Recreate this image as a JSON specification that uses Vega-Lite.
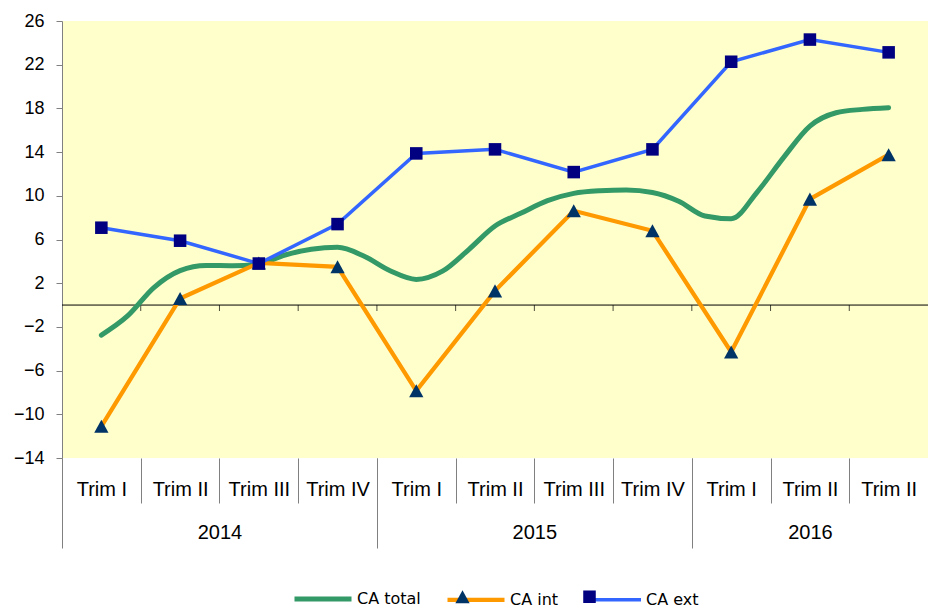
{
  "$schema": "https://vega.github.io/schema/vega-lite/v6.json",
  "width": 866,
  "height": 437,
  "autosize": "none",
  "padding": {"left": 62, "top": 21, "right": 0, "bottom": 150},
  "background": "white",
  "view": {"fill": "#FFFFCC", "stroke": null},
  "config": {"font": "Liberation Sans"},
  "datasets": {
    "total": [
      {"t": 0, "v": -2.75, "series": "CA total"},
      {"t": 0.333, "v": -1.0, "series": "CA total"},
      {"t": 0.667, "v": 1.6, "series": "CA total"},
      {"t": 1, "v": 3.15, "series": "CA total"},
      {"t": 1.333, "v": 3.63, "series": "CA total"},
      {"t": 1.667, "v": 3.6, "series": "CA total"},
      {"t": 2, "v": 3.75, "series": "CA total"},
      {"t": 2.333, "v": 4.58, "series": "CA total"},
      {"t": 2.667, "v": 5.1, "series": "CA total"},
      {"t": 3, "v": 5.28, "series": "CA total"},
      {"t": 3.333, "v": 4.49, "series": "CA total"},
      {"t": 3.667, "v": 3.14, "series": "CA total"},
      {"t": 4, "v": 2.35, "series": "CA total"},
      {"t": 4.333, "v": 3.1, "series": "CA total"},
      {"t": 4.667, "v": 5.08, "series": "CA total"},
      {"t": 5, "v": 7.23, "series": "CA total"},
      {"t": 5.333, "v": 8.42, "series": "CA total"},
      {"t": 5.667, "v": 9.55, "series": "CA total"},
      {"t": 6, "v": 10.22, "series": "CA total"},
      {"t": 6.333, "v": 10.46, "series": "CA total"},
      {"t": 6.667, "v": 10.53, "series": "CA total"},
      {"t": 7, "v": 10.3, "series": "CA total"},
      {"t": 7.333, "v": 9.5, "series": "CA total"},
      {"t": 7.667, "v": 8.15, "series": "CA total"},
      {"t": 8, "v": 7.9, "series": "CA total"},
      {"t": 8.333, "v": 10.37, "series": "CA total"},
      {"t": 8.667, "v": 13.52, "series": "CA total"},
      {"t": 9, "v": 16.38, "series": "CA total"},
      {"t": 9.333, "v": 17.6, "series": "CA total"},
      {"t": 9.667, "v": 17.91, "series": "CA total"},
      {"t": 10, "v": 18.06, "series": "CA total"}
    ],
    "quarters": [
      {"t": 0, "v": -11.1, "series": "CA int"},
      {"t": 1, "v": 0.6, "series": "CA int"},
      {"t": 2, "v": 3.85, "series": "CA int"},
      {"t": 3, "v": 3.5, "series": "CA int"},
      {"t": 4, "v": -7.85, "series": "CA int"},
      {"t": 5, "v": 1.3, "series": "CA int"},
      {"t": 6, "v": 8.63, "series": "CA int"},
      {"t": 7, "v": 6.8, "series": "CA int"},
      {"t": 8, "v": -4.3, "series": "CA int"},
      {"t": 9, "v": 9.7, "series": "CA int"},
      {"t": 10, "v": 13.76, "series": "CA int"},
      {"t": 0, "v": 7.08, "series": "CA ext"},
      {"t": 1, "v": 5.89, "series": "CA ext"},
      {"t": 2, "v": 3.8, "series": "CA ext"},
      {"t": 3, "v": 7.41, "series": "CA ext"},
      {"t": 4, "v": 13.88, "series": "CA ext"},
      {"t": 5, "v": 14.25, "series": "CA ext"},
      {"t": 6, "v": 12.17, "series": "CA ext"},
      {"t": 7, "v": 14.25, "series": "CA ext"},
      {"t": 8, "v": 22.27, "series": "CA ext"},
      {"t": 9, "v": 24.3, "series": "CA ext"},
      {"t": 10, "v": 23.13, "series": "CA ext"}
    ],
    "bounds": [
      {"t": 0.5}, {"t": 1.5}, {"t": 2.5}, {"t": 3.5}, {"t": 4.5},
      {"t": 5.5}, {"t": 6.5}, {"t": 7.5}, {"t": 8.5}, {"t": 9.5}
    ]
  },
  "resolve": {"axis": {"x": "independent"}},
  "layer": [
    {
      "data": {"values": [{}]},
      "mark": {"type": "rule", "color": "#000000", "strokeWidth": 1},
      "encoding": {
        "y": {"datum": 0, "type": "quantitative", "scale": {"domain": [-14, 26], "nice": false, "zero": false},
          "axis": {"values": [-14, -10, -6, -2, 2, 6, 10, 14, 18, 22, 26], "grid": false, "domainColor": "#808080", "tickColor": "#808080", "tickSize": 6, "labelPadding": 12, "labelFont": "Liberation Sans", "labelFontSize": 18, "labelColor": "#000000", "title": null, "labelFlush": false, "labelBound": false, "labelOverlap": false}}
      }
    },
    {
      "data": {"name": "bounds"},
      "mark": {"type": "tick", "orient": "vertical", "size": 6, "thickness": 1, "yOffset": 3, "color": "#000000"},
      "encoding": {
        "x": {"field": "t", "type": "quantitative", "scale": {"domain": [-0.5, 10.5], "nice": false, "zero": false},
          "axis": {"orient": "bottom", "values": [1.5, 5.5, 9], "ticks": false, "tickSize": 0, "domain": false, "grid": false, "labelPadding": 64, "labelFont": "Liberation Sans", "labelFontSize": 20, "labelColor": "#000000", "labelExpr": "datum.value < 3.5 ? '2014' : (datum.value < 7.5 ? '2015' : '2016')", "labelFlush": false, "labelOverlap": false, "labelBound": false, "title": null}},
        "y": {"datum": 0, "type": "quantitative", "scale": {"domain": [-14, 26], "nice": false, "zero": false}, "title": null}
      }
    },
    {
      "data": {"name": "total"},
      "mark": {"type": "line", "interpolate": "monotone", "strokeCap": "round"},
      "encoding": {
        "x": {"field": "t", "type": "quantitative", "scale": {"domain": [-0.5, 10.5], "nice": false, "zero": false},
          "axis": {"orient": "bottom", "values": [-0.5, 0.5, 1.5, 2.5, 3.5, 4.5, 5.5, 6.5, 7.5, 8.5, 9.5], "tickSize": 45, "tickColor": "#808080", "labels": false, "domain": false, "grid": false, "title": null}},
        "y": {"field": "v", "type": "quantitative", "scale": {"domain": [-14, 26], "nice": false, "zero": false}, "title": null},
        "stroke": {"field": "series", "type": "nominal",
          "scale": {"domain": ["CA total", "CA int", "CA ext"], "range": ["#339966", "#FF9900", "#3366FF"]},
          "legend": {"orient": "none", "legendX": 230, "legendY": 547, "direction": "horizontal", "title": null, "symbolType": "stroke", "symbolSize": 3249, "labelFont": "DejaVu Sans", "labelFontSize": 16, "labelColor": "#000000", "labelOffset": 3, "columnPadding": 18, "padding": 0, "symbolOffset": 0}},
        "strokeWidth": {"field": "series", "type": "nominal",
          "scale": {"domain": ["CA total", "CA int", "CA ext"], "range": [5, 3.5, 3.5]},
          "legend": {"orient": "none", "legendX": 230, "legendY": 547, "direction": "horizontal", "title": null, "symbolType": "stroke", "symbolSize": 3249, "labelFont": "DejaVu Sans", "labelFontSize": 16, "labelColor": "#000000", "labelOffset": 3, "columnPadding": 18, "padding": 0, "symbolOffset": 0}}
      }
    },
    {
      "data": {"name": "quarters"},
      "mark": {"type": "line", "interpolate": "linear"},
      "encoding": {
        "x": {"field": "t", "type": "quantitative", "scale": {"domain": [-0.5, 10.5], "nice": false, "zero": false},
          "axis": {"orient": "bottom", "values": [-0.5, 3.5, 7.5], "tickSize": 90, "tickColor": "#808080", "labels": false, "domain": false, "grid": false, "title": null}},
        "y": {"field": "v", "type": "quantitative", "scale": {"domain": [-14, 26], "nice": false, "zero": false}, "title": null},
        "stroke": {"field": "series", "type": "nominal",
          "scale": {"domain": ["CA total", "CA int", "CA ext"], "range": ["#339966", "#FF9900", "#3366FF"]}},
        "strokeWidth": {"field": "series", "type": "nominal",
          "scale": {"domain": ["CA total", "CA int", "CA ext"], "range": [5, 3.5, 3.5]}}
      }
    },
    {
      "data": {"name": "quarters"},
      "mark": {"type": "point", "filled": true, "size": 3249, "opacity": 1, "strokeWidth": 0},
      "encoding": {
        "x": {"field": "t", "type": "quantitative", "scale": {"domain": [-0.5, 10.5], "nice": false, "zero": false},
          "axis": {"orient": "bottom", "values": [0, 1, 2, 3, 4, 5, 6, 7, 8, 9, 10], "ticks": false, "tickSize": 0, "domain": false, "grid": false, "labelPadding": 21, "labelFont": "Liberation Sans", "labelFontSize": 20, "labelColor": "#000000", "labelExpr": "['Trim I','Trim II','Trim III','Trim IV','Trim I','Trim II','Trim III','Trim IV','Trim I','Trim II','Trim II'][datum.value]", "labelFlush": false, "labelOverlap": false, "labelBound": false, "title": null}},
        "y": {"field": "v", "type": "quantitative", "scale": {"domain": [-14, 26], "nice": false, "zero": false}, "title": null},
        "shape": {"field": "series", "type": "nominal",
          "scale": {"domain": ["CA int", "CA ext", "CA total"], "range": ["M-0.25,0.23L0,-0.23L0.25,0.23Z", "M-0.22,-0.22H0.22V0.22H-0.22Z", "M0,0"]},
          "legend": {"orient": "none", "legendX": 230, "legendY": 547, "direction": "horizontal", "title": null, "values": ["CA total", "CA int", "CA ext"], "symbolSize": 3249, "symbolStrokeWidth": 0, "labelFont": "DejaVu Sans", "labelFontSize": 16, "labelOpacity": 0, "labelOffset": 3, "columnPadding": 18, "padding": 0, "symbolOffset": 0}},
        "fill": {"field": "series", "type": "nominal",
          "scale": {"domain": ["CA int", "CA ext", "CA total"], "range": ["#003366", "#000080", "transparent"]},
          "legend": {"orient": "none", "legendX": 230, "legendY": 547, "direction": "horizontal", "title": null, "values": ["CA total", "CA int", "CA ext"], "symbolSize": 3249, "symbolStrokeWidth": 0, "labelFont": "DejaVu Sans", "labelFontSize": 16, "labelOpacity": 0, "labelOffset": 3, "columnPadding": 18, "padding": 0, "symbolOffset": 0}}
      }
    }
  ]
}
